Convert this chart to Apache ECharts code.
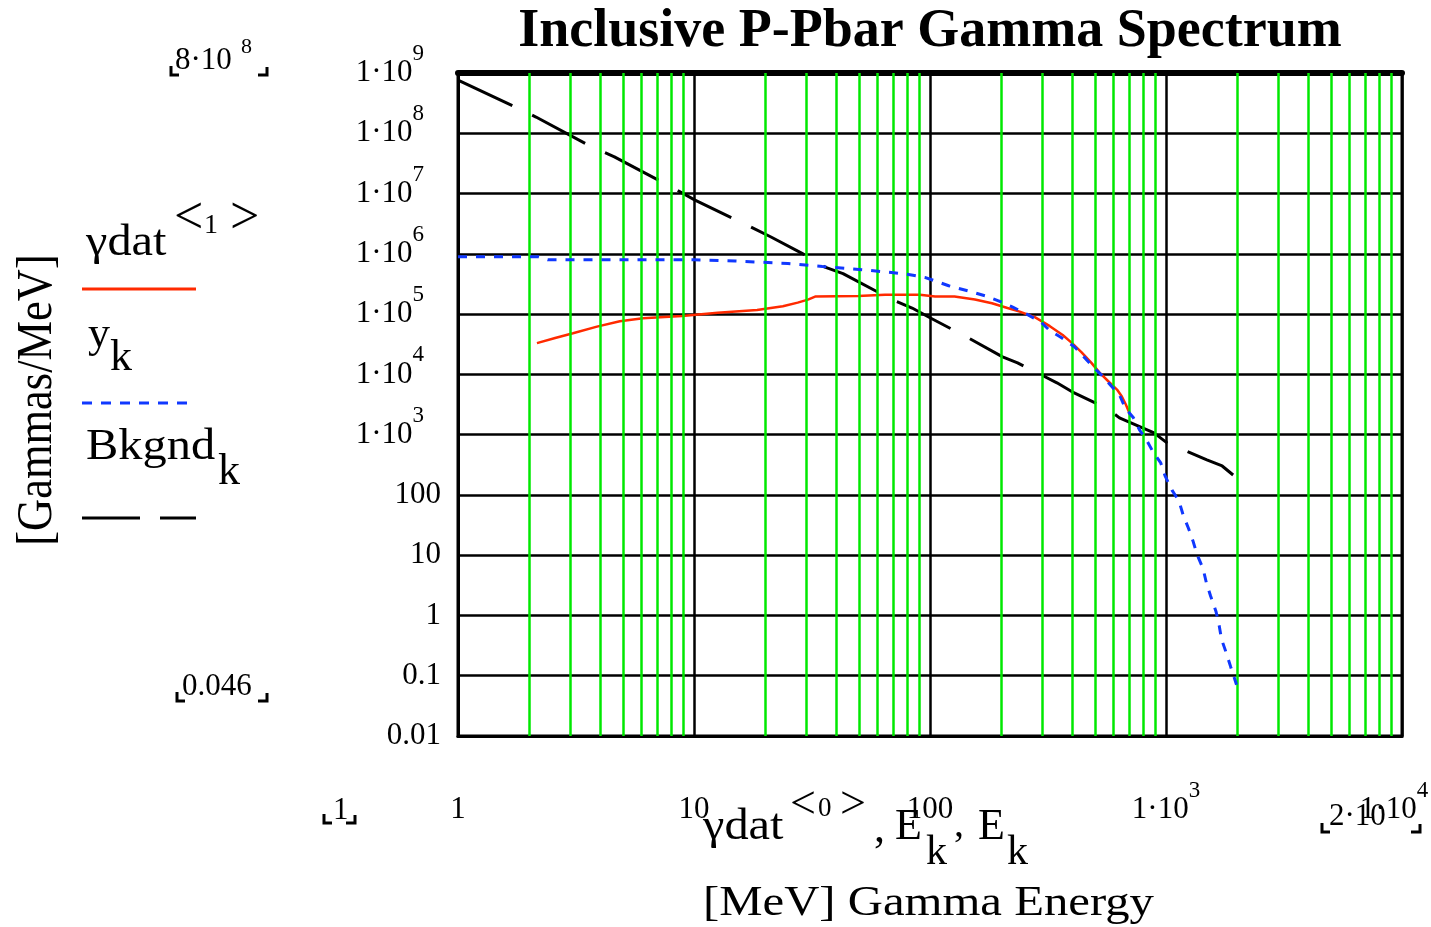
<!DOCTYPE html>
<html>
<head>
<meta charset="utf-8">
<title>Inclusive P-Pbar Gamma Spectrum</title>
<script src="https://cdn.jsdelivr.net/npm/echarts@6.0.0/dist/echarts.min.js"></script>
<style>
  html, body { margin: 0; padding: 0; background: #fff; }
  #main { width: 1431px; height: 927px; }
</style>
</head>
<body>
<div id="main"></div>
<script>
// gamma data, column 0 = energy [MeV], column 1 = gammas/MeV (red)
var gdatE = [2.16, 2.58, 3.07, 3.88, 4.85, 6.08, 8.9, 12.6, 18.5, 23.8, 27.5, 30.4, 32.6, 49.6, 64.5, 90.6, 105, 127, 155, 183, 213, 240, 278, 322, 365, 400, 438, 483, 523, 575, 620, 650, 675, 710];
var gdatN = [33000, 40000, 48000, 62000, 76000, 85000, 93000, 105000, 117000, 135000, 155000, 174000, 195000, 200000, 209000, 209000, 195000, 195000, 174000, 151000, 126000, 110000, 89000, 63000, 45000, 33000, 23400, 15500, 10700, 7400, 5600, 4300, 3200, 2000];
// y_k fit (blue dotted)
var fitE = [1, 2.2, 2.4, 10, 15, 25, 35, 50, 65, 80, 95, 105, 120, 150, 172, 195, 223, 257, 295, 323, 357, 409, 449, 492, 536, 585, 635, 672, 728, 772, 830, 882, 950, 990, 1060, 1135, 1185, 1245, 1300, 1355, 1437, 1485, 1545, 1630, 1680, 1720, 1800, 1880, 1990];
var fitN = [891000, 891000, 794000, 794000, 759000, 692000, 617000, 550000, 501000, 457000, 407000, 355000, 295000, 234000, 200000, 166000, 132000, 100000, 74000, 52500, 41700, 28800, 19500, 13200, 9550, 6460, 4570, 2750, 1900, 1200, 794, 513, 339, 209, 120, 79, 45, 28, 17.4, 10.2, 5.9, 3.4, 2.1, 1.15, 0.68, 0.40, 0.24, 0.14, 0.071];
// Bkgnd_k (black dashed)
var bkgE = [1, 1.74, 2.14, 3.7, 4.6, 8.0, 10.1, 17.3, 21.2, 28.7, 35.9, 42.8, 69, 84, 100, 124, 143, 203, 235, 345, 400, 565, 635, 890, 1013, 1490, 1730, 1925];
var bkgN = [7.6e8, 2.75e8, 1.86e8, 5.9e7, 4.07e7, 1.29e7, 7.76e6, 2.82e6, 1.9e6, 1.02e6, 6.0e5, 4.7e5, 1.74e5, 1.26e5, 8.7e4, 5.6e4, 4.17e4, 1.95e4, 1.55e4, 7240, 5130, 2690, 1900, 1070, 724, 380, 302, 214];

// axis ranges
var xRange = [1, 10000];
var yRange = [0.01, 1e9];
// 2..9 inside each decade -> green grid lines
var minorSteps = [2, 3, 4, 5, 6, 7, 8, 9];
var xDecades = [1, 10, 100, 1000];

var serif = '"Liberation Serif", "DejaVu Serif", serif';
var RED = '#ff2a00', BLUE = '#1038ff', GREEN = '#00e800';

function pairs(xs, ys) {
  return xs.map(function (x, i) { return [x, ys[i]]; });
}

var minorX = [];
xDecades.forEach(function (d) {
  minorSteps.forEach(function (k) { minorX.push({ xAxis: k * d }); });
});

// Mathcad style labels: 1·10^n for big values
function powLabel(v, bigFrom, padRight) {
  var e = Math.round(Math.log10(v));
  if (e >= bigFrom) {
    return '{b|1·10}{e|' + e + '}' + (padRight ? '{' + padRight + '|}' : '');
  }
  var s = e >= 0 ? String(Math.pow(10, e)) : (e == -1 ? '0.1' : '0.01');
  return '{b|' + s + '}';
}
var labelRich = {
  b: { fontFamily: serif, fontSize: 31, color: '#000' },
  e: { fontFamily: serif, fontSize: 23, color: '#000', padding: [0, 0, 38, 0] },
  p: { width: 17 },
  q: { width: 16 }
};

function txt(x, y, s, size, opt) {
  opt = opt || {};
  return {
    type: 'text', x: x, y: y, rotation: opt.rot || 0,
    scaleX: opt.sx || 1, scaleY: 1,
    style: {
      text: s, fill: '#000',
      font: (opt.bold ? 'bold ' : '') + size + 'px ' + serif,
      align: opt.align || 'left', textAlign: opt.align || 'left',
      verticalAlign: 'middle', textVerticalAlign: 'middle'
    }
  };
}
function seg(x1, y1, x2, y2, color, w, dash) {
  return {
    type: 'line', shape: { x1: x1, y1: y1, x2: x2, y2: y2 },
    style: { stroke: color, lineWidth: w, lineDash: dash || null }
  };
}
function bracket(x1, x2, yb) {
  return [
    { type: 'polyline', shape: { points: [[x1 + 1, yb - 9], [x1 + 1, yb], [x1 + 9, yb]] }, style: { stroke: '#000', lineWidth: 3, fill: null } },
    { type: 'polyline', shape: { points: [[x2 - 10, yb], [x2 - 1, yb], [x2 - 1, yb - 8]] }, style: { stroke: '#000', lineWidth: 3, fill: null } }
  ];
}

var graphics = [
  txt(930, 32, 'Inclusive P-Pbar Gamma Spectrum', 54, { bold: true, align: 'center' }),
  // y label
  txt(38, 400, '[Gammas/MeV]', 50, { rot: Math.PI / 2, align: 'center', sx: 0.89 }),
  // legend
  txt(86, 243, 'γdat', 44, { sx: 1.1 }),
  txt(174, 219, '<', 52),
  txt(204, 226, '1', 28),
  txt(230, 219, '>', 52),
  seg(82, 289, 196, 289, RED, 3),
  txt(88, 335, 'y', 44),
  txt(110, 358, 'k', 44),
  seg(82, 403, 190, 403, BLUE, 3, [10, 9]),
  txt(86, 447, 'Bkgnd', 44, { sx: 1.1 }),
  txt(218, 472, 'k', 44),
  seg(82, 518, 140, 518, '#000', 3),
  seg(160, 518, 196, 518, '#000', 3),
  // x label
  txt(703, 827, 'γdat', 44, { sx: 1.1 }),
  txt(790, 806, '<', 46),
  txt(818, 809, '0', 27),
  txt(840, 806, '>', 46),
  txt(874, 830, ',', 44),
  txt(895, 827, 'E', 44),
  txt(926, 853, 'k', 42),
  txt(954, 825, ',', 40),
  txt(978, 827, 'E', 44),
  txt(1007, 853, 'k', 42),
  txt(703, 904, '[MeV] Gamma Energy', 42, { sx: 1.16 }),
  // limit markers
  txt(175, 61, '8·10', 31),
  txt(241, 47, '8', 22),
  txt(182, 687, '0.046', 31),
  txt(333, 811, '1', 31),
  txt(1329, 817, '2·10', 31)
].concat(bracket(170, 268, 75), bracket(176, 268, 701), bracket(323, 356, 823), bracket(1321, 1421, 832));

var chart = echarts.init(document.getElementById('main'));
chart.setOption({
  animation: false,
  backgroundColor: '#fff',
  grid: {
    left: 458, right: 29, top: 73, bottom: 191,
    outerBoundsMode: 'none', containLabel: false,
    show: true, borderColor: '#000', borderWidth: 3
  },
  xAxis: [{
    type: 'log', logBase: 10, min: xRange[0], max: xRange[1], interval: 1,
    axisLine: { lineStyle: { color: '#000', width: 3 } },
    axisTick: { show: false },
    axisLabel: {
      margin: 74, verticalAlign: 'middle', showMinLabel: true, showMaxLabel: true,
      formatter: function (v) { return powLabel(v, 3, v > 5000 ? 'q' : ''); },
      rich: labelRich
    },
    splitLine: { show: true, lineStyle: { color: '#000', width: 2.5 } }
  }, {
    type: 'log', logBase: 10, min: xRange[0], max: xRange[1], position: 'top',
    axisLine: { lineStyle: { color: '#000', width: 6 } },
    axisTick: { show: false }, axisLabel: { show: false }, splitLine: { show: false }
  }],
  yAxis: {
    type: 'log', logBase: 10, min: yRange[0], max: yRange[1], interval: 1,
    axisLine: { lineStyle: { color: '#000', width: 3 } },
    axisTick: { show: false },
    axisLabel: {
      margin: 17, showMinLabel: true, showMaxLabel: true,
      formatter: function (v) { return powLabel(v, 3, 'p'); },
      rich: labelRich
    },
    splitLine: { show: true, lineStyle: { color: '#000', width: 2.5 } }
  },
  series: [{
    type: 'line', xAxisIndex: 0, z: 1, data: [],
    markLine: {
      silent: true, animation: false, symbol: ['none', 'none'],
      label: { show: false },
      lineStyle: { color: GREEN, width: 2.5, type: 'solid' },
      data: minorX
    }
  }, {
    name: 'Bkgnd', type: 'line', xAxisIndex: 0, z: 3, showSymbol: false,
    lineStyle: { color: '#000', width: 3, type: [60, 22] },
    data: pairs(bkgE, bkgN)
  }, {
    name: 'gdat', type: 'line', xAxisIndex: 0, z: 4, showSymbol: false,
    lineStyle: { color: RED, width: 2.5 },
    data: pairs(gdatE, gdatN)
  }, {
    name: 'y', type: 'line', xAxisIndex: 0, z: 5, showSymbol: false,
    lineStyle: { color: BLUE, width: 3, type: [9, 9] },
    data: pairs(fitE, fitN)
  }],
  graphic: graphics
});
</script>
</body>
</html>
